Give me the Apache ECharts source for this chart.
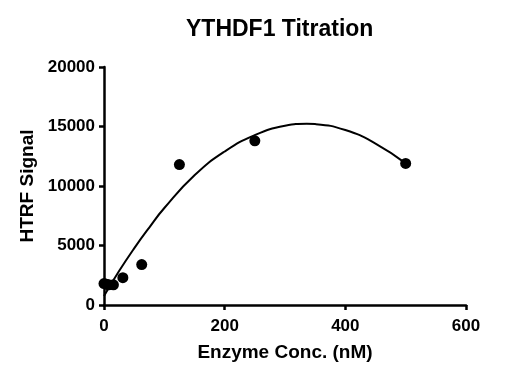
<!DOCTYPE html>
<html>
<head>
<meta charset="utf-8">
<script src="https://cdn.jsdelivr.net/npm/echarts@6/dist/echarts.min.js"></script>
<style>html,body{margin:0;padding:0;background:#fff}#c{width:523px;height:380px}</style>
</head>
<body>
<div id="c"></div>
<script>
var titleText = "YTHDF1 Titration";
var xName = "Enzyme Conc. (nM)";
var yName = "HTRF Signal";
var xTicks = [0, 200, 400, 600];
var yTicks = [0, 5000, 10000, 15000, 20000];
// measured points (enzyme conc nM, HTRF signal)
var concs = [0, 3.9, 7.8, 15.6, 31.25, 62.5, 125, 250, 500];
var signals = [1800, 1750, 1700, 1700, 2300, 3400, 11800, 13800, 11900];
// fitted curve
var fitX = [0, 25, 50, 75, 100, 150, 200, 250, 300, 336, 350, 400, 450, 500];
var fitY = [750, 2850, 4760, 6510, 8150, 10900, 12900, 14280, 15060, 15230, 15200, 14700, 13570, 11900];

var chart = echarts.init(document.getElementById('c'), null, {renderer: 'canvas'});
var font = 'Liberation Sans, Arial, sans-serif';
chart.setOption({
  animation: false,
  backgroundColor: '#ffffff',
  title: {
    text: titleText, left: 181, top: 13,
    textStyle: {fontFamily: font, fontWeight: 'bold', fontSize: 23, color: '#000'}
  },
  grid: {left: 104, right: 57, top: 67, bottom: 75},
  xAxis: {
    type: 'value', min: xTicks[0], max: xTicks[xTicks.length - 1], interval: 200,
    name: xName, nameLocation: 'middle', nameGap: 38,
    nameTextStyle: {fontFamily: font, fontWeight: 'bold', fontSize: 19, color: '#000'},
    axisLine: {show: true, lineStyle: {color: '#000', width: 2.5}},
    axisTick: {show: true, length: 5, lineStyle: {color: '#000', width: 2.5}},
    axisLabel: {margin: 13, fontFamily: font, fontWeight: 'bold', fontSize: 17, color: '#000',
      formatter: function (v) { return String(v); }},
    splitLine: {show: false}
  },
  yAxis: {
    type: 'value', min: yTicks[0], max: yTicks[yTicks.length - 1], interval: 5000,
    name: yName, nameLocation: 'middle', nameGap: 60,
    nameTextStyle: {fontFamily: font, fontWeight: 'bold', fontSize: 19, color: '#000'},
    axisLine: {show: true, lineStyle: {color: '#000', width: 2.5}},
    axisTick: {show: true, length: 5, lineStyle: {color: '#000', width: 2.5}},
    axisLabel: {margin: 9, fontFamily: font, fontWeight: 'bold', fontSize: 17, color: '#000',
      formatter: function (v) { return String(v); }},
    splitLine: {show: false}
  },
  series: [
    {
      type: 'line', smooth: true, showSymbol: false, symbol: 'none',
      data: fitX.map(function (x, i) { return [x, fitY[i]]; }),
      lineStyle: {color: '#000', width: 2}, z: 2
    },
    {
      type: 'scatter', symbol: 'circle', symbolSize: 11,
      data: concs.map(function (x, i) { return [x, signals[i]]; }),
      itemStyle: {color: '#000', opacity: 1}, z: 3
    }
  ]
});
</script>
</body>
</html>
